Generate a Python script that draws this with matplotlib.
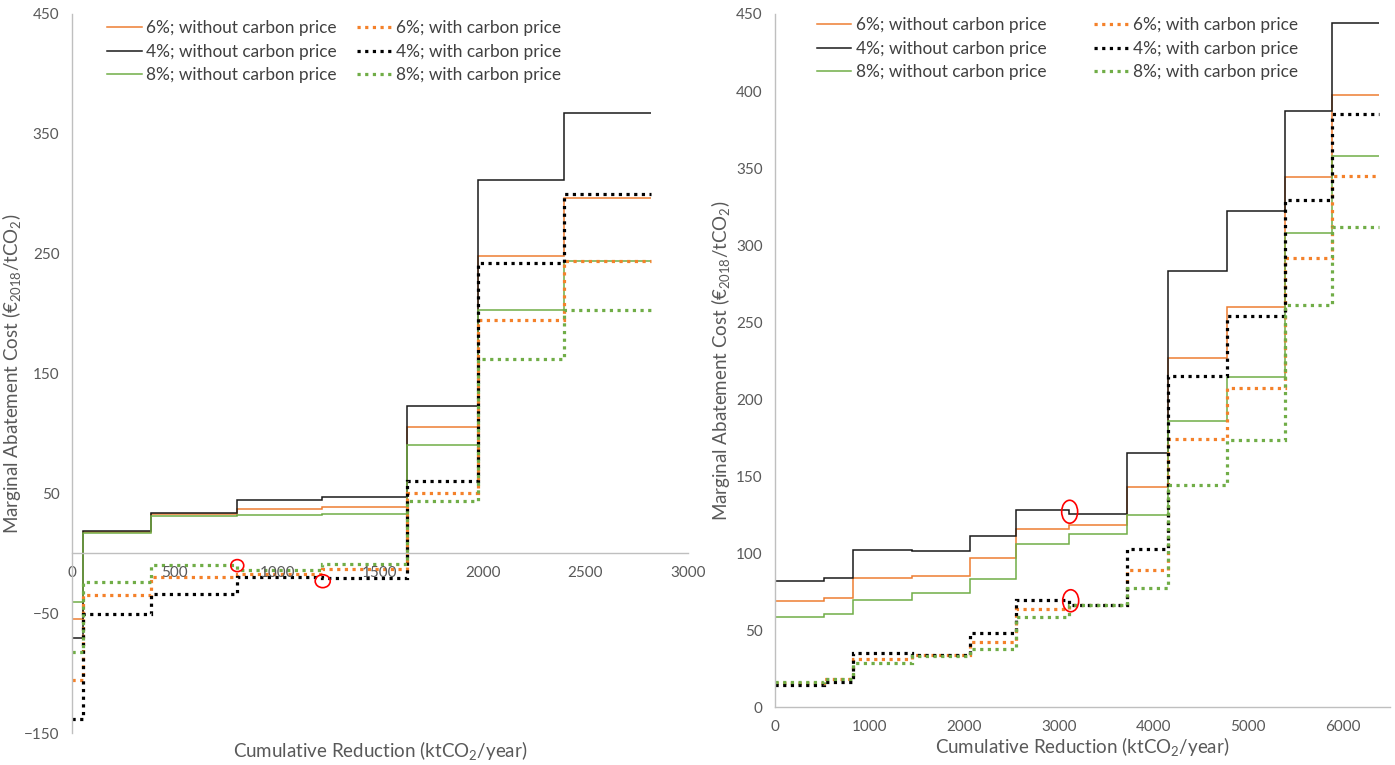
import matplotlib
matplotlib.use("Agg")
import matplotlib.pyplot as plt
from matplotlib.patches import Ellipse

plt.rcParams['font.family'] = ['Lato', 'DejaVu Sans']
plt.rcParams['mathtext.fontset'] = 'custom'
plt.rcParams['mathtext.rm'] = 'Lato'
plt.rcParams['mathtext.default'] = 'rm'

# ---- left panel: step edges (ktCO2/year) and costs (EUR/tCO2) ----
left_edges = [0, 54, 385, 804, 1217, 1632, 1978, 2396, 2820]
left_6_wo = [-54.5, 18, 32.8, 37.2, 38.6, 105, 248, 296.7]
left_4_wo = [-71, 18.5, 33.3, 44.4, 47, 122.8, 311.4, 367]
left_8_wo = [-41, 17, 31.4, 31.7, 32.8, 90.5, 202.8, 244]
left_6_w = [-106, -35, -19.4, -17, -13, 50.5, 195, 244]
left_4_w = [-138, -50.3, -33.6, -19.7, -20.5, 60.3, 242.5, 299.4]
left_8_w = [-82.5, -23.9, -9.4, -14.2, -8.6, 43.6, 161.7, 203.3]

# ---- right panel ----
right_edges = [0, 522, 822, 1446, 2063, 2550, 3107, 3722, 4152, 4772, 5390, 5887, 6381]
right_6_wo = [68.6, 70.6, 83.5, 85.3, 96.5, 115.8, 118, 143, 226.4, 259.7, 344.2, 397.2]
right_4_wo = [81.8, 83.5, 102.2, 101.3, 111.3, 128.1, 125.3, 165.1, 283.1, 322, 387, 444]
right_8_wo = [58.7, 60.4, 69.5, 74.2, 83.3, 105.6, 112.1, 124.5, 185.7, 214.5, 308, 358]
right_6_w = [15.8, 18, 31.2, 34, 42.2, 63.8, 66.2, 89, 174, 207.4, 291.8, 344.8]
right_4_w = [14.5, 16, 34.8, 34, 47.8, 69.5, 66.2, 102.6, 215, 253.9, 329, 384.8]
right_8_w = [16.2, 18.2, 28.6, 33.3, 37.7, 58.2, 66.2, 77.5, 144.4, 173.4, 261.3, 311.5]

labels_wo = ['6%; without carbon price', '4%; without carbon price', '8%; without carbon price']
labels_w = ['6%; with carbon price', '4%; with carbon price', '8%; with carbon price']

c_orange = '#ED7D31'
c_orange_dot = '#F4812A'
c_black = '#1A1A1A'
c_green = '#70AD47'
grey_txt = '#595959'
grey_axis = '#BFBFBF'
dots = (0, (1.0, 1.4))

fig = plt.figure(figsize=(13.95, 7.65), dpi=100)
ax1 = fig.add_axes([0.0516, 0.0418, 0.4416, 0.9399])
ax2 = fig.add_axes([0.5556, 0.0758, 0.4408, 0.9059])


def draw(ax, edges, wo, w):
    handles = []
    for vals, col, lab in zip(wo, [c_orange, c_black, c_green], labels_wo):
        h = ax.stairs(vals, edges, baseline=None, color=col, lw=1.1, label=lab)
        handles.append(h)
    for vals, col, lab in zip(w, [c_orange_dot, 'black', c_green], labels_w):
        h = ax.stairs(vals, edges, baseline=None, color=col, lw=2.3,
                      linestyle=dots, label=lab)
        handles.append(h)
    return handles


h1 = draw(ax1, left_edges, [left_6_wo, left_4_wo, left_8_wo],
          [left_6_w, left_4_w, left_8_w])
h2 = draw(ax2, right_edges, [right_6_wo, right_4_wo, right_8_wo],
          [right_6_w, right_4_w, right_8_w])

# left axes styling
ax1.set_xlim(0, 3000)
ax1.set_ylim(-150, 450)
ax1.set_xticks(range(0, 3001, 500))
ax1.set_yticks(range(-150, 451, 100))
ax1.spines['bottom'].set_position(('data', 0))

ax2.set_xlim(0, 6500)
ax2.set_ylim(0, 450)
ax2.set_xticks(range(0, 6001, 1000))
ax2.set_yticks(range(0, 451, 50))

for ax in (ax1, ax2):
    for s in ('top', 'right'):
        ax.spines[s].set_visible(False)
    for s in ('left', 'bottom'):
        ax.spines[s].set_color(grey_axis)
        ax.spines[s].set_linewidth(1.0)
    ax.tick_params(length=0, labelsize=11, labelcolor=grey_txt, pad=9)
    ax.set_facecolor('none')

ylab = 'Marginal Abatement Cost (€$_{2018}$/tCO$_2$)'
xlab = 'Cumulative Reduction (ktCO$_2$/year)'
ax1.set_ylabel(ylab, fontsize=13.5, color=grey_txt, labelpad=1)
ax2.set_ylabel(ylab, fontsize=13.5, color=grey_txt, labelpad=3)
ax1.set_xlabel(xlab, fontsize=13.5, color=grey_txt)
ax1.xaxis.set_label_coords(0.5, -0.008)
ax2.set_xlabel(xlab, fontsize=13.5, color=grey_txt, labelpad=1)

for ax, h, anchor, cs in ((ax1, h1, (0.057, 0.991), 1.2), (ax2, h2, (0.068, 0.995), 2.8)):
    leg = ax.legend(handles=h, ncol=2, loc='upper left', bbox_to_anchor=anchor,
                    frameon=False, fontsize=12.4, handlelength=2.0,
                    handletextpad=0.25, columnspacing=cs, labelspacing=0.42,
                    borderpad=0, borderaxespad=0)
    for t in leg.get_texts():
        t.set_color('#404040')

# red circle annotations
for ax, xy, wd, ht in ((ax1, (805, -10.3), 63, 10), (ax1, (1221, -23.3), 73, 10.8),
                       (ax2, (3114, 126.8), 169, 14.9), (ax2, (3125, 69), 169, 14.3)):
    ax.add_patch(Ellipse(xy, wd, ht, fill=False, edgecolor='red', lw=1.2, zorder=5))

fig.savefig('out.png', dpi=100)
